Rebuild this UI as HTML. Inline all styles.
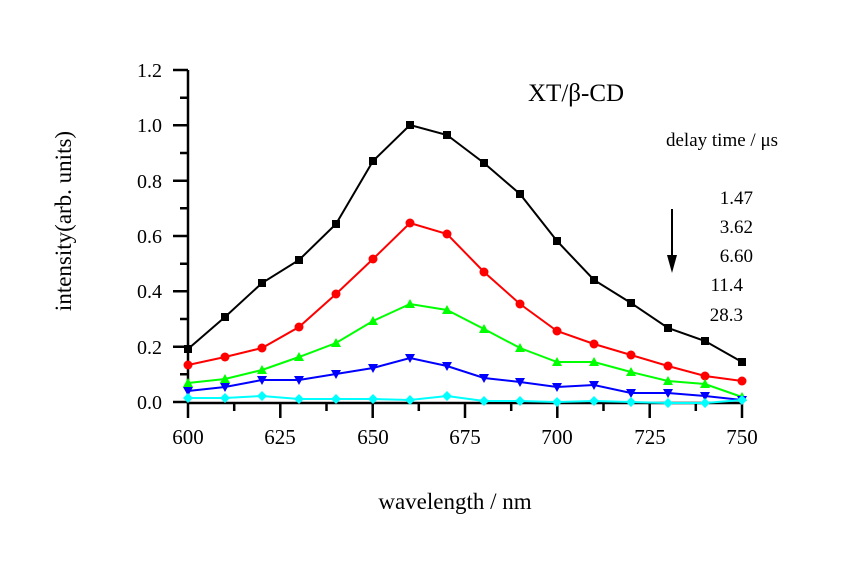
<!DOCTYPE html>
<html><head><meta charset="utf-8"><style>
html,body{margin:0;padding:0;background:#fff;width:846px;height:565px;overflow:hidden}
svg text{font-family:"Liberation Serif",serif;fill:#000}
</style></head><body>
<svg width="846" height="565" xmlns="http://www.w3.org/2000/svg">
<g stroke="#000" stroke-width="2.5" fill="none">
<line x1="188" y1="70" x2="188" y2="404"/>
<line x1="187" y1="403" x2="743" y2="403"/>
<path d="M173 70H188M173 125.3H188M173 180.7H188M173 236H188M173 291.3H188M173 346.7H188M173 402H188"/>
<path d="M180 97.7H188M180 153H188M180 208.3H188M180 263.7H188M180 319H188M180 374.3H188"/>
<path d="M188 403V418M280.3 403V418M372.7 403V418M465 403V418M557.3 403V418M649.7 403V418M742 403V418"/>
<path d="M234.2 403V411M326.5 403V411M418.8 403V411M511.2 403V411M603.5 403V411M695.8 403V411"/>
</g>
<g font-size="20" text-anchor="end">
<text x="162" y="77">1.2</text><text x="162" y="132">1.0</text><text x="162" y="188">0.8</text>
<text x="162" y="243">0.6</text><text x="162" y="298">0.4</text><text x="162" y="354">0.2</text><text x="162" y="409">0.0</text>
</g>
<g font-size="21" text-anchor="middle">
<text x="188" y="444">600</text><text x="280" y="444">625</text><text x="373" y="444">650</text>
<text x="465" y="444">675</text><text x="557" y="444">700</text><text x="650" y="444">725</text><text x="742" y="444">750</text>
</g>
<text x="455" y="509" font-size="23" text-anchor="middle">wavelength / nm</text>
<text transform="translate(71,221) rotate(-90)" font-size="23" text-anchor="middle">intensity(arb. units)</text>
<text x="528" y="101" font-size="25">XT/β-CD</text>
<text x="666" y="146" font-size="19">delay time / μs</text>
<g font-size="19" text-anchor="end">
<text x="753" y="204">1.47</text><text x="753" y="233">3.62</text><text x="753" y="262">6.60</text>
<text x="743" y="291">11.4</text><text x="743" y="321">28.3</text>
</g>
<line x1="672" y1="209" x2="672" y2="260" stroke="#000" stroke-width="2"/>
<polygon points="667,255 677,255 672,273" fill="#000"/>
<g fill="none" stroke-width="2">
<polyline stroke="#000" points="188,349 225,317 262,283 299,260 336,224 373,161 410,125 447,135 484,163 520,194 557,241 594,280 631,303 668,328 705,341 742,362"/>
<polyline stroke="#f00" points="188,365 225,357 262,348 299,327 336,294 373,259 410,223 447,234 484,272 520,304 557,331 594,344 631,355 668,366 705,376 742,381"/>
<polyline stroke="#0f0" points="188,383 225,379 262,370 299,357 336,343 373,321 410,304 447,310 484,329 520,348 557,362 594,362 631,372 668,381 705,384 742,397"/>
<polyline stroke="#00f" points="188,391 225,387 262,380 299,380 336,374 373,368 410,358 447,366 484,378 520,382 557,387 594,385 631,393 668,393 705,396 742,400"/>
<polyline stroke="#0ff" points="188,398 225,398 262,396 299,399 336,399 373,399 410,400 447,396 484,401 520,401 557,402 594,401 631,402 668,403 705,403 742,400"/>
</g>
<g fill="#000">
<rect x="184" y="345" width="8" height="8"/><rect x="221" y="313" width="8" height="8"/><rect x="258" y="279" width="8" height="8"/><rect x="295" y="256" width="8" height="8"/><rect x="332" y="220" width="8" height="8"/><rect x="369" y="157" width="8" height="8"/><rect x="406" y="121" width="8" height="8"/><rect x="443" y="131" width="8" height="8"/><rect x="480" y="159" width="8" height="8"/><rect x="516" y="190" width="8" height="8"/><rect x="553" y="237" width="8" height="8"/><rect x="590" y="276" width="8" height="8"/><rect x="627" y="299" width="8" height="8"/><rect x="664" y="324" width="8" height="8"/><rect x="701" y="337" width="8" height="8"/><rect x="738" y="358" width="8" height="8"/>
</g>
<g fill="#f00">
<circle cx="188" cy="365" r="4.5"/><circle cx="225" cy="357" r="4.5"/><circle cx="262" cy="348" r="4.5"/><circle cx="299" cy="327" r="4.5"/><circle cx="336" cy="294" r="4.5"/><circle cx="373" cy="259" r="4.5"/><circle cx="410" cy="223" r="4.5"/><circle cx="447" cy="234" r="4.5"/><circle cx="484" cy="272" r="4.5"/><circle cx="520" cy="304" r="4.5"/><circle cx="557" cy="331" r="4.5"/><circle cx="594" cy="344" r="4.5"/><circle cx="631" cy="355" r="4.5"/><circle cx="668" cy="366" r="4.5"/><circle cx="705" cy="376" r="4.5"/><circle cx="742" cy="381" r="4.5"/>
</g>
<g fill="#0f0">
<path d="M188,378l5,9h-10z M225,374l5,9h-10z M262,365l5,9h-10z M299,352l5,9h-10z M336,338l5,9h-10z M373,316l5,9h-10z M410,299l5,9h-10z M447,305l5,9h-10z M484,324l5,9h-10z M520,343l5,9h-10z M557,357l5,9h-10z M594,357l5,9h-10z M631,367l5,9h-10z M668,376l5,9h-10z M705,379l5,9h-10z M742,392l5,9h-10z"/>
</g>
<g fill="#00f">
<path d="M188,396l5,-9h-10z M225,392l5,-9h-10z M262,385l5,-9h-10z M299,385l5,-9h-10z M336,379l5,-9h-10z M373,373l5,-9h-10z M410,363l5,-9h-10z M447,371l5,-9h-10z M484,383l5,-9h-10z M520,387l5,-9h-10z M557,392l5,-9h-10z M594,390l5,-9h-10z M631,398l5,-9h-10z M668,398l5,-9h-10z M705,401l5,-9h-10z M742,405l5,-9h-10z"/>
</g>
<g fill="#0ff">
<path d="M188,393l5,5l-5,5l-5,-5z M225,393l5,5l-5,5l-5,-5z M262,391l5,5l-5,5l-5,-5z M299,394l5,5l-5,5l-5,-5z M336,394l5,5l-5,5l-5,-5z M373,394l5,5l-5,5l-5,-5z M410,395l5,5l-5,5l-5,-5z M447,391l5,5l-5,5l-5,-5z M484,396l5,5l-5,5l-5,-5z M520,396l5,5l-5,5l-5,-5z M557,397l5,5l-5,5l-5,-5z M594,396l5,5l-5,5l-5,-5z M631,397l5,5l-5,5l-5,-5z M668,398l5,5l-5,5l-5,-5z M705,398l5,5l-5,5l-5,-5z M742,395l5,5l-5,5l-5,-5z"/>
</g>
</svg>
</body></html>
